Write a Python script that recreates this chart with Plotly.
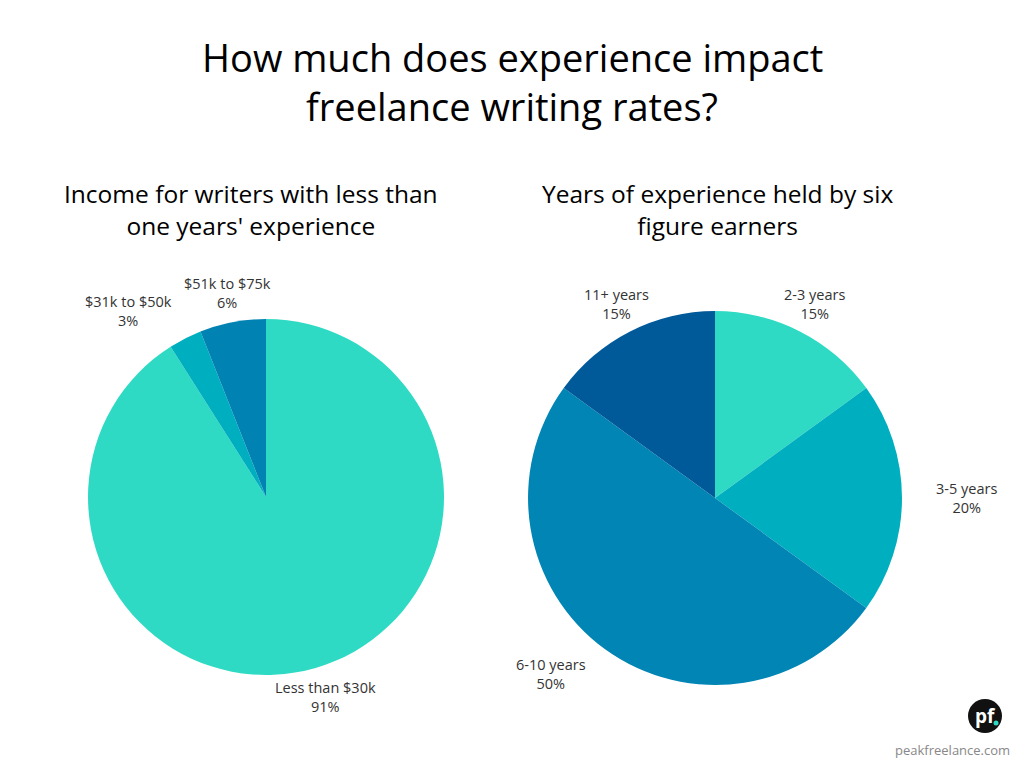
import plotly.graph_objects as go

# Data
left_labels = ["Less than $30k", "$31k to $50k", "$51k to $75k"]
left_values = [91, 3, 6]
right_labels = ["2-3 years", "3-5 years", "6-10 years", "11+ years"]
right_values = [15, 20, 50, 15]

left_colors = ["#2FDAC4", "#00AFBF", "#0083B3"]
right_colors = ["#2FDAC4", "#00AFBF", "#0085B4", "#005A9A"]

W, H = 1024, 768
OFF = 8  # page body margin offset
FONT = "Open Sans"


def px(x):
    return (x - OFF) / W


def py(y):
    return 1 - (y - OFF) / H


fig = go.Figure()
fig.add_trace(go.Pie(
    labels=left_labels, values=left_values, sort=False, direction="clockwise",
    rotation=0, marker=dict(colors=left_colors, line=dict(width=0)),
    textinfo="none", hoverinfo="label+percent",
    domain=dict(x=[px(88), px(444)], y=[py(675), py(319)]),
    showlegend=False,
))
fig.add_trace(go.Pie(
    labels=right_labels, values=right_values, sort=False, direction="clockwise",
    rotation=0, marker=dict(colors=right_colors, line=dict(width=0)),
    textinfo="none", hoverinfo="label+percent",
    domain=dict(x=[px(528), px(902)], y=[py(685), py(311)]),
    showlegend=False,
))

# label placement (pixel positions of label centres)
left_pos = [(325, 697), (128, 311), (227, 293)]
right_pos = [(814, 304), (966, 498), (551, 674), (616, 304)]

ann = []


def add_labels(labels, values, pos):
    tot = sum(values)
    for lab, v, (lx, ly) in zip(labels, values, pos):
        ann.append(dict(
            x=px(lx), y=py(ly), xref="paper", yref="paper",
            text=f"{lab}<br>{round(100 * v / tot)}%", showarrow=False,
            font=dict(family=FONT, size=14.5, color="#333333"),
            align="center", xanchor="center", yanchor="middle",
        ))


add_labels(left_labels, left_values, left_pos)
add_labels(right_labels, right_values, right_pos)

# Titles
ann.append(dict(x=px(512), y=py(57), xref="paper", yref="paper", showarrow=False,
                text="How much does experience impact", font=dict(family=FONT, size=38, color="#000"),
                xanchor="center", yanchor="middle"))
ann.append(dict(x=px(512), y=py(106), xref="paper", yref="paper", showarrow=False,
                text="freelance writing rates?", font=dict(family=FONT, size=38, color="#000"),
                xanchor="center", yanchor="middle"))
ann.append(dict(x=px(251), y=py(209), xref="paper", yref="paper", showarrow=False,
                text="Income for writers with less than<br>one years' experience",
                font=dict(family=FONT, size=24.5, color="#000"), xanchor="center", yanchor="middle",
                align="center"))
ann.append(dict(x=px(717), y=py(209), xref="paper", yref="paper", showarrow=False,
                text="Years of experience held by six<br>figure earners",
                font=dict(family=FONT, size=24.5, color="#000"), xanchor="center", yanchor="middle",
                align="center"))

# logo
ann.append(dict(x=px(985), y=py(716), xref="paper", yref="paper", showarrow=False,
                text="<b>pf</b>", font=dict(family=FONT, size=19, color="#fff"),
                xanchor="center", yanchor="middle"))
ann.append(dict(x=px(952), y=py(750), xref="paper", yref="paper", showarrow=False,
                text="peakfreelance.com", font=dict(family=FONT, size=13, color="#888"),
                xanchor="center", yanchor="middle"))

shapes = [
    dict(type="circle", xref="paper", yref="paper",
         x0=px(968), x1=px(1002), y0=py(733), y1=py(699),
         fillcolor="#111", line=dict(width=0)),
    dict(type="circle", xref="paper", yref="paper",
         x0=px(993.5), x1=px(998.5), y0=py(725.5), y1=py(720.5),
         fillcolor="#2FDAC4", line=dict(width=0)),
]

fig.update_layout(
    width=W, height=H, margin=dict(l=0, r=0, t=0, b=0),
    paper_bgcolor="white", plot_bgcolor="white",
    annotations=ann, shapes=shapes,
)

fig.write_html("out.html")
